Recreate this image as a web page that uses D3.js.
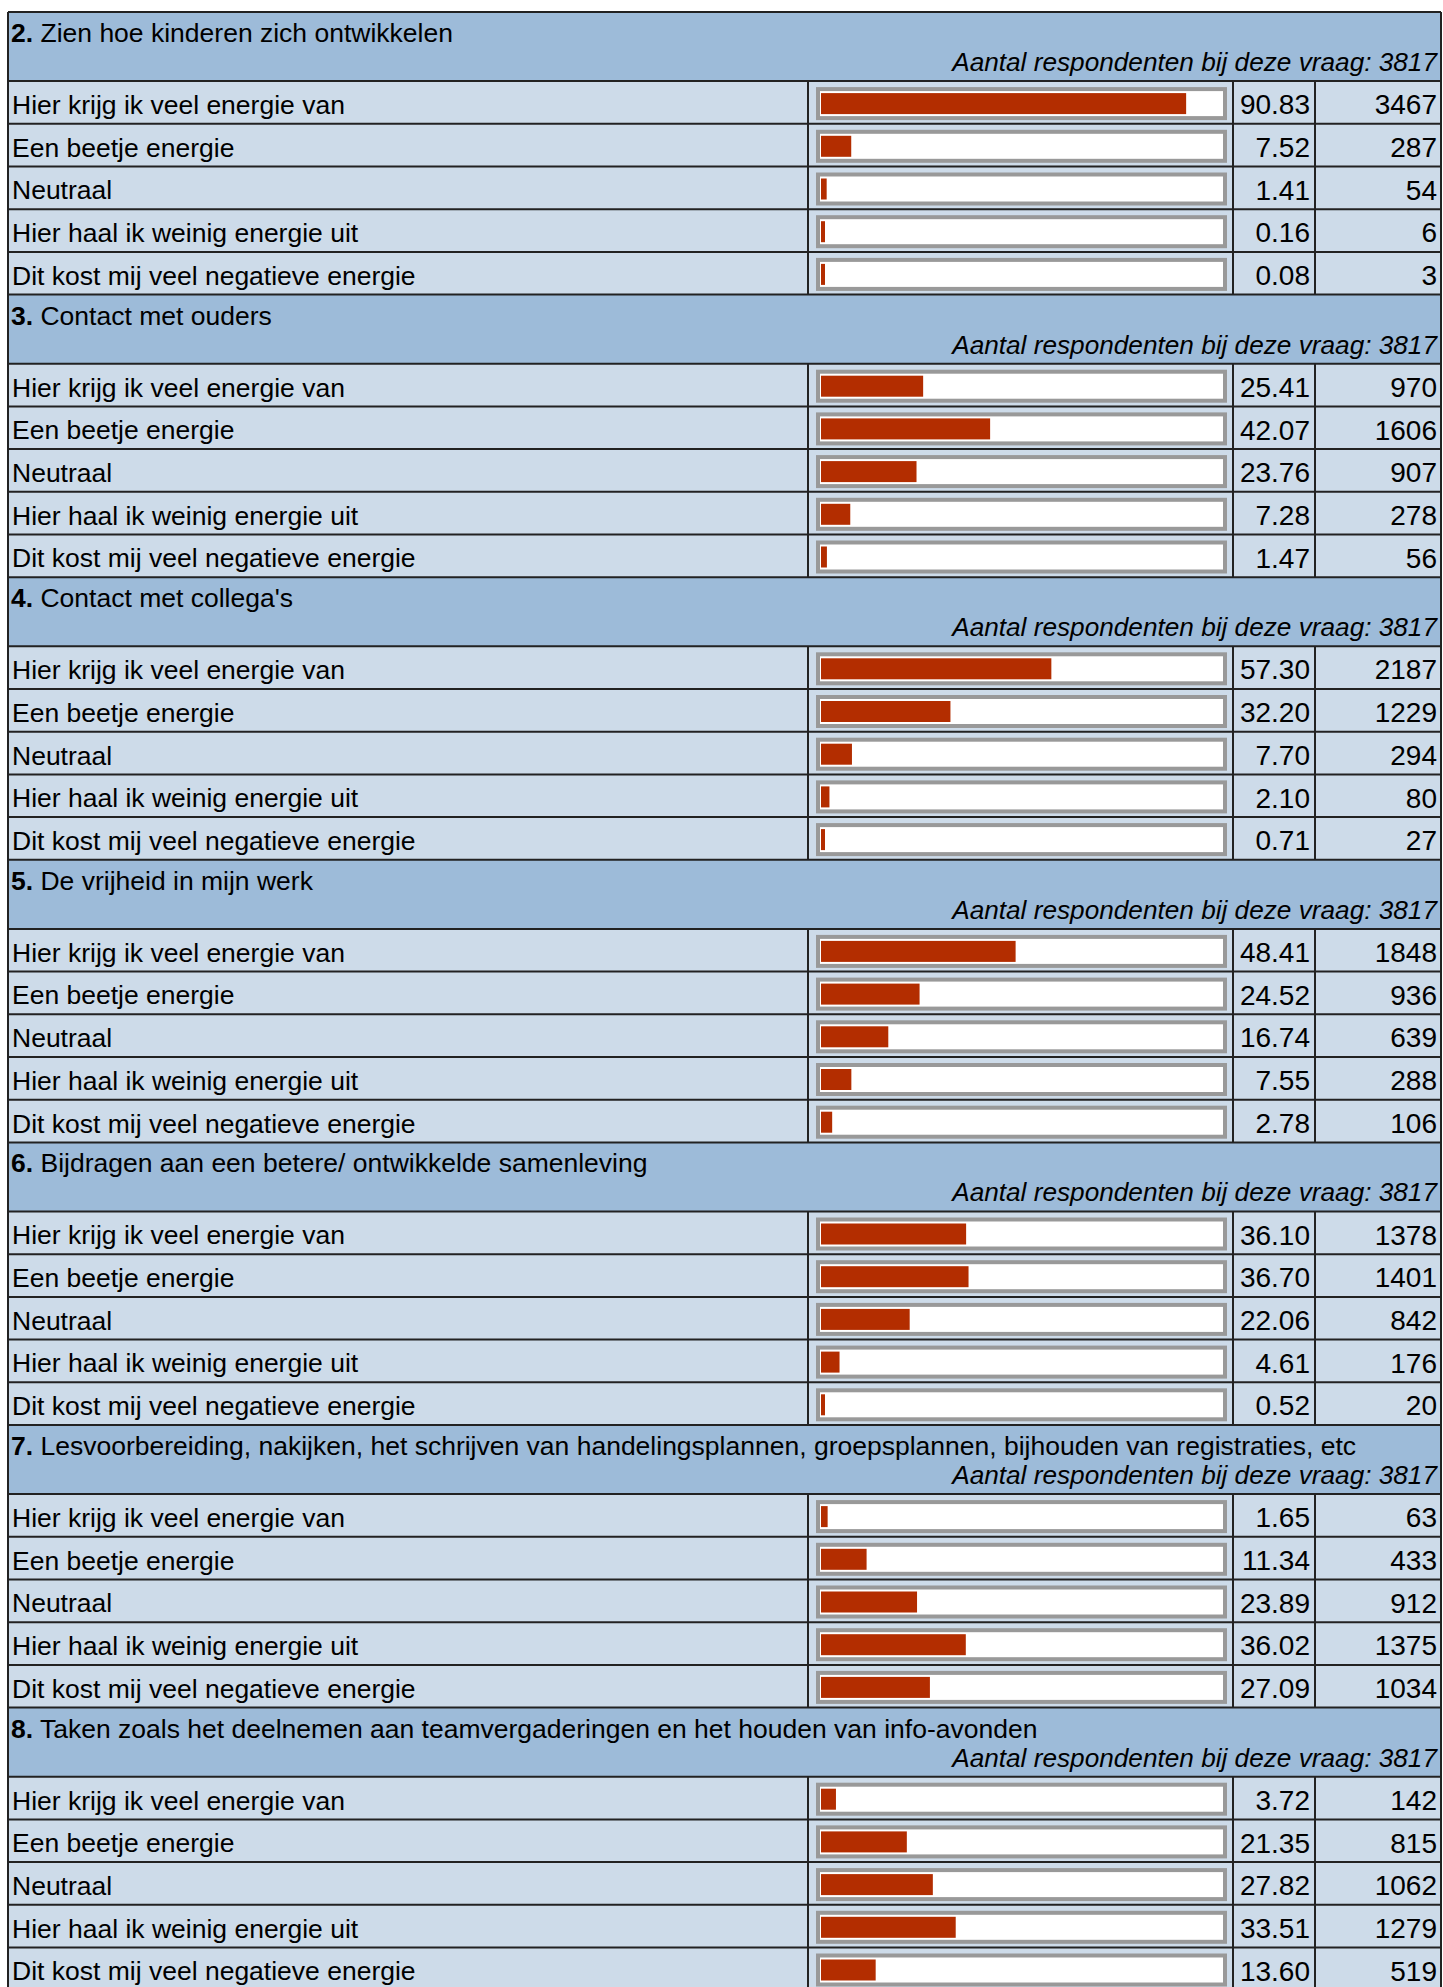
<!DOCTYPE html>
<html>
<head>
<meta charset="utf-8">
<script src="https://cdn.jsdelivr.net/npm/d3@7"></script>
<style>
  body { margin: 0; background: #fff; }
  text { font-family: "Liberation Sans", Arial, sans-serif; font-size: 26.5px; fill: #000; }
  text.num { font-size: 28px; }
  text.resp { font-size: 26.2px; font-style: italic; }
</style>
</head>
<body>
<div id="chart"></div>
<script>
const categories = [
    "Hier krijg ik veel energie van",
    "Een beetje energie",
    "Neutraal",
    "Hier haal ik weinig energie uit",
    "Dit kost mij veel negatieve energie"
]
const questionNumbers = [2, 3, 4, 5, 6, 7, 8]
const questionTitles = [
    "Zien hoe kinderen zich ontwikkelen",
    "Contact met ouders",
    "Contact met collega's",
    "De vrijheid in mijn werk",
    "Bijdragen aan een betere/ ontwikkelde samenleving",
    "Lesvoorbereiding, nakijken, het schrijven van handelingsplannen, groepsplannen, bijhouden van registraties, etc",
    "Taken zoals het deelnemen aan teamvergaderingen en het houden van info-avonden"
]
const respondents = [3817, 3817, 3817, 3817, 3817, 3817, 3817]
const percentages = [
    [90.83, 7.52, 1.41, 0.16, 0.08],
    [25.41, 42.07, 23.76, 7.28, 1.47],
    [57.30, 32.20, 7.70, 2.10, 0.71],
    [48.41, 24.52, 16.74, 7.55, 2.78],
    [36.10, 36.70, 22.06, 4.61, 0.52],
    [1.65, 11.34, 23.89, 36.02, 27.09],
    [3.72, 21.35, 27.82, 33.51, 13.60]
]
const counts = [
    [3467, 287, 54, 6, 3],
    [970, 1606, 907, 278, 56],
    [2187, 1229, 294, 80, 27],
    [1848, 936, 639, 288, 106],
    [1378, 1401, 842, 176, 20],
    [63, 433, 912, 1375, 1034],
    [142, 815, 1062, 1279, 519]
]

const WIDTH = 1443, HEIGHT = 1987
const LEFT = 8, RIGHT = 1441, TOP = 12
const HEADER_H = 69.1, ROW_H = 42.7
const GROUP_H = HEADER_H + 5 * ROW_H
// column edges: label | bar | percent | count
const COL = { BAR: 808, PCT: 1233, CNT: 1315 }

const fmtPct = d3.format(".2f")

const svg = d3.select("#chart")
    .append("svg")
        .attr("width", WIDTH)
        .attr("height", HEIGHT)

// scales
const yGroup = d3.scaleBand()
    .domain(questionNumbers)
    .range([TOP, TOP + GROUP_H * questionNumbers.length])
    .padding(0)

const yRow = d3.scaleBand()
    .domain(categories)
    .range([HEADER_H, HEADER_H + ROW_H * categories.length])
    .padding(0)

const x = d3.scaleLinear()
    .domain([0, 100])
    .range([0, 402])

const data = questionNumbers.map((n, i) => ({
    nr: n,
    title: questionTitles[i],
    total: respondents[i],
    rows: categories.map((c, j) => ({ cat: c, pct: percentages[i][j], count: counts[i][j] }))
}))

const groups = svg.selectAll(".question")
    .data(data)
    .enter()
    .append("g")
        .attr("class", "question")
        .attr("transform", d => `translate(0, ${yGroup(d.nr)})`)

/* --- header --- */
groups.append("rect")
    .attr("x", LEFT)
    .attr("y", 0)
    .attr("width", RIGHT - LEFT)
    .attr("height", HEADER_H)
    .attr("fill", "#9dbbd9")

const title = groups.append("text")
    .attr("x", LEFT + 3)
    .attr("y", 30)
title.append("tspan")
    .style("font-weight", "bold")
    .text(d => d.nr + ".")
title.append("tspan")
    .text(d => " " + d.title)

groups.append("text")
    .attr("class", "resp")
    .attr("x", RIGHT - 4)
    .attr("y", 59)
    .attr("text-anchor", "end")
    .text(d => "Aantal respondenten bij deze vraag: " + d.total)

/* --- rows --- */
const rows = groups.selectAll(".row")
    .data(d => d.rows)
    .enter()
    .append("g")
        .attr("class", "row")
        .attr("transform", d => `translate(0, ${yRow(d.cat)})`)

rows.append("rect")
    .attr("x", LEFT)
    .attr("width", RIGHT - LEFT)
    .attr("height", ROW_H)
    .attr("fill", "#cddbe9")

rows.append("text")
    .attr("x", LEFT + 4)
    .attr("y", ROW_H / 2 + 2)
    .attr("dy", "0.36em")
    .text(d => d.cat)

// bar frame
rows.append("rect")
    .attr("x", 818)
    .attr("y", 8)
    .attr("width", 407)
    .attr("height", 29)
    .attr("fill", "#fff")
    .attr("stroke", "#999")
    .attr("stroke-width", 4)

rows.append("rect")
    .attr("class", "bar")
    .attr("x", 821)
    .attr("y", 12)
    .attr("height", 21)
    .attr("width", d => Math.max(4, x(d.pct)))
    .attr("fill", "#b32d00")

rows.append("text")
    .attr("class", "num")
    .attr("x", COL.CNT - 5)
    .attr("y", ROW_H / 2 + 2)
    .attr("dy", "0.35em")
    .attr("text-anchor", "end")
    .text(d => fmtPct(d.pct))

rows.append("text")
    .attr("class", "num")
    .attr("x", RIGHT - 4)
    .attr("y", ROW_H / 2 + 2)
    .attr("dy", "0.35em")
    .attr("text-anchor", "end")
    .text(d => d.count)

// grid lines
rows.append("line")
    .attr("x1", LEFT).attr("x2", RIGHT)
    .attr("y1", 0).attr("y2", 0)
    .attr("stroke", "#222").attr("stroke-width", 2)

rows.selectAll(".vline")
    .data([COL.BAR, COL.PCT, COL.CNT])
    .enter()
    .append("line")
        .attr("class", "vline")
        .attr("x1", d => d).attr("x2", d => d)
        .attr("y1", 0).attr("y2", ROW_H)
        .attr("stroke", "#222").attr("stroke-width", 2)

groups.append("line")
    .attr("x1", LEFT).attr("x2", RIGHT)
    .attr("y1", 0).attr("y2", 0)
    .attr("stroke", "#222").attr("stroke-width", 2)

// outer frame sides
svg.selectAll(".side")
    .data([LEFT, RIGHT])
    .enter()
    .append("line")
        .attr("class", "side")
        .attr("x1", d => d).attr("x2", d => d)
        .attr("y1", TOP).attr("y2", HEIGHT)
        .attr("stroke", "#222").attr("stroke-width", 2)
</script>
</body>
</html>
